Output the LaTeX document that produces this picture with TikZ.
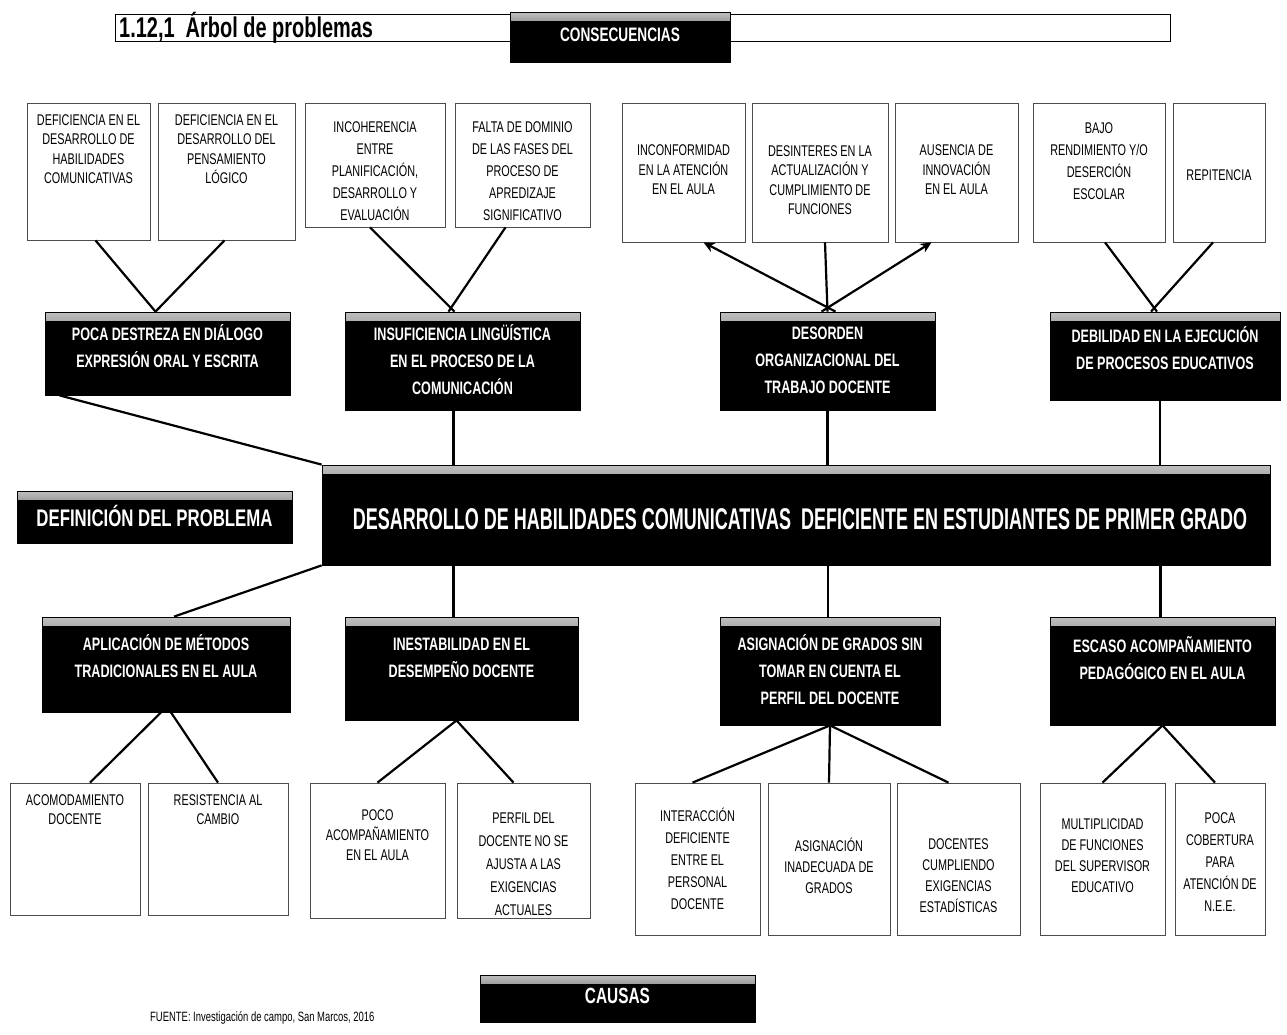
\documentclass[tikz,border=0pt]{standalone}
\usepackage{fontspec}
\setmainfont{Liberation Sans}
\newfontfamily\cond[FakeStretch=0.7]{Liberation Sans}
\newfontfamily\condn[FakeStretch=0.6]{Liberation Sans}
\usetikzlibrary{arrows.meta,calc}
\begin{document}
\begin{tikzpicture}[x=1pt,y=-1pt,
  wbox/.style={draw=black!70, line width=0.8pt, fill=white, inner sep=0pt},
  dbox/.style={fill=black, draw=black, line width=0.8pt, inner sep=0pt,
    path picture={\shade[top color=black!25, bottom color=black]
      (path picture bounding box.north west) rectangle ([yshift=-8pt]path picture bounding box.north east);}},
  wtxt/.style={font=\cond\fontsize{15.5}{19.5}\selectfont, align=center, inner sep=0pt},
  dtxt/.style={font=\cond\bfseries\fontsize{18}{27}\selectfont, text=white, align=center, inner sep=0pt},
  conn/.style={line width=2.2pt, black},
  arr/.style={line width=2.2pt, black, -{Stealth[length=11pt,width=10pt]}}]
\useasboundingbox (0,0) rectangle (1287,1034);

% header
\draw[line width=0.8pt] (115,14) rectangle (1170,41);
\node[anchor=west, font=\cond\bfseries\fontsize{28.5}{30}\selectfont, inner sep=0pt] (title) at (119,28) {1.12,1\ \ Árbol de problemas};
\node[dbox, minimum width=220, minimum height=50] (cons) at (620,37) {};
\node[dtxt, font=\cond\bfseries\fontsize{19.5}{22}\selectfont] (conslbl) at (620,35) {CONSECUENCIAS};

% top consequence boxes
\node[wbox, minimum width=123, minimum height=137] (t1) at (88.5,171.5) {};
\node[wbox, minimum width=137, minimum height=137] (t2) at (226.5,171.5) {};
\node[wbox, minimum width=140, minimum height=124] (t3) at (375,165) {};
\node[wbox, minimum width=135, minimum height=124] (t4) at (522.5,165) {};
\node[wbox, minimum width=123, minimum height=139] (t5) at (683.5,172.5) {};
\node[wbox, minimum width=136, minimum height=139] (t6) at (820,172.5) {};
\node[wbox, minimum width=123, minimum height=139] (t7) at (956.5,172.5) {};
\node[wbox, minimum width=132, minimum height=139] (t8) at (1099,172.5) {};
\node[wbox, minimum width=92, minimum height=139] (t9) at (1219,172.5) {};

\node[wtxt] (t1l) at (88.5,149) {DEFICIENCIA EN EL\\DESARROLLO DE\\HABILIDADES\\COMUNICATIVAS};
\node[wtxt] (t2l) at (226.5,149) {DEFICIENCIA EN EL\\DESARROLLO DEL\\PENSAMIENTO\\LÓGICO};
\node[wtxt, font=\cond\fontsize{15.5}{22}\selectfont] (t3l) at (375,171) {INCOHERENCIA\\ENTRE\\PLANIFICACIÓN,\\DESARROLLO Y\\EVALUACIÓN};
\node[wtxt, font=\cond\fontsize{15.5}{22}\selectfont] (t4l) at (522.5,171) {FALTA DE DOMINIO\\DE LAS FASES DEL\\PROCESO DE\\APREDIZAJE\\SIGNIFICATIVO};
\node[wtxt] (t5l) at (683.5,170) {INCONFORMIDAD\\EN LA ATENCIÓN\\EN EL AULA};
\node[wtxt] (t6l) at (820,180) {DESINTERES EN LA\\ACTUALIZACIÓN Y\\CUMPLIMIENTO DE\\FUNCIONES};
\node[wtxt] (t7l) at (956.5,170) {AUSENCIA DE\\INNOVACIÓN\\EN EL AULA};
\node[wtxt, font=\cond\fontsize{15.5}{22}\selectfont] (t8l) at (1099,161) {BAJO\\RENDIMIENTO Y/O\\DESERCIÓN\\ESCOLAR};
\node[wtxt] (t9l) at (1219,175) {REPITENCIA};

% effect (dark) boxes
\node[dbox, minimum width=245, minimum height=83] (E1) at (167.5,353.5) {};
\node[dbox, minimum width=235, minimum height=98] (E2) at (462.5,361) {};
\node[dbox, minimum width=215, minimum height=98] (E3) at (827.5,361) {};
\node[dbox, minimum width=230, minimum height=88] (E4) at (1165,356) {};
\node[dtxt] (E1l) at (167.5,346) {POCA DESTREZA EN DIÁLOGO\\EXPRESIÓN ORAL Y ESCRITA};
\node[dtxt] (E2l) at (462.5,360) {INSUFICIENCIA LINGÜÍSTICA\\EN EL PROCESO DE LA\\COMUNICACIÓN};
\node[dtxt] (E3l) at (827.5,360) {DESORDEN\\ORGANIZACIONAL DEL\\TRABAJO DOCENTE};
\node[dtxt] (E4l) at (1165,348) {DEBILIDAD EN LA EJECUCIÓN\\DE PROCESOS EDUCATIVOS};

% central problem
\node[dbox, minimum width=948, minimum height=100] (ctr) at (796,515) {};
\node[dtxt, font=\condn\bfseries\fontsize{30}{32}\selectfont] (ctrl) at (800,519) {DESARROLLO DE HABILIDADES COMUNICATIVAS\ \ DEFICIENTE EN ESTUDIANTES DE PRIMER GRADO};
\node[dbox, minimum width=275, minimum height=52] (def) at (154.5,517) {};
\node[dtxt, font=\cond\bfseries\fontsize{24}{26}\selectfont] (defl) at (154.5,516) {DEFINICIÓN DEL PROBLEMA};

% cause (dark) boxes
\node[dbox, minimum width=248, minimum height=95] (C1) at (166,664.5) {};
\node[dbox, minimum width=233, minimum height=103] (C2) at (461.5,668.5) {};
\node[dbox, minimum width=220, minimum height=108] (C3) at (830,671) {};
\node[dbox, minimum width=225, minimum height=108] (C4) at (1162.5,671) {};
\node[dtxt] (C1l) at (166,656) {APLICACIÓN DE MÉTODOS\\TRADICIONALES EN EL AULA};
\node[dtxt] (C2l) at (461.5,658) {INESTABILIDAD EN EL\\DESEMPEÑO DOCENTE};
\node[dtxt] (C3l) at (830,670) {ASIGNACIÓN DE GRADOS SIN\\TOMAR EN CUENTA EL\\PERFIL DEL DOCENTE};
\node[dtxt] (C4l) at (1162.5,658) {ESCASO ACOMPAÑAMIENTO\\PEDAGÓGICO EN EL AULA};

% bottom cause boxes
\node[wbox, minimum width=130, minimum height=132] (b1) at (75,849) {};
\node[wbox, minimum width=140, minimum height=132] (b2) at (218,849) {};
\node[wbox, minimum width=135, minimum height=135] (b3) at (377.5,850.5) {};
\node[wbox, minimum width=133, minimum height=135] (b4) at (523.5,850.5) {};
\node[wbox, minimum width=125, minimum height=152] (b5) at (697.5,859) {};
\node[wbox, minimum width=122, minimum height=152] (b6) at (829,859) {};
\node[wbox, minimum width=123, minimum height=152] (b7) at (958.5,859) {};
\node[wbox, minimum width=125, minimum height=152] (b8) at (1102.5,859) {};
\node[wbox, minimum width=90, minimum height=152] (b9) at (1220,859) {};

\node[wtxt, font=\cond\fontsize{15.5}{19}\selectfont] (b1l) at (75,810) {ACOMODAMIENTO\\DOCENTE};
\node[wtxt, font=\cond\fontsize{15.5}{19}\selectfont] (b2l) at (218,810) {RESISTENCIA AL\\CAMBIO};
\node[wtxt, font=\cond\fontsize{15.5}{20}\selectfont] (b3l) at (377.5,835) {POCO\\ACOMPAÑAMIENTO\\EN EL AULA};
\node[wtxt, font=\cond\fontsize{15.5}{23}\selectfont] (b4l) at (523.5,864) {PERFIL DEL\\DOCENTE NO SE\\AJUSTA A LAS\\EXIGENCIAS\\ACTUALES};
\node[wtxt, font=\cond\fontsize{15.5}{22}\selectfont] (b5l) at (697.5,859) {INTERACCIÓN\\DEFICIENTE\\ENTRE EL\\PERSONAL\\DOCENTE};
\node[wtxt, font=\cond\fontsize{15.5}{21}\selectfont] (b6l) at (829,866) {ASIGNACIÓN\\INADECUADA DE\\GRADOS};
\node[wtxt, font=\cond\fontsize{15.5}{21}\selectfont] (b7l) at (958.5,876) {DOCENTES\\CUMPLIENDO\\EXIGENCIAS\\ESTADÍSTICAS};
\node[wtxt, font=\cond\fontsize{15.5}{21}\selectfont] (b8l) at (1102.5,856) {MULTIPLICIDAD\\DE FUNCIONES\\DEL SUPERVISOR\\EDUCATIVO};
\node[wtxt, font=\cond\fontsize{15.5}{22}\selectfont] (b9l) at (1220,862) {POCA\\COBERTURA\\PARA\\ATENCIÓN DE\\N.E.E.};

% causas label and source
\node[dbox, minimum width=275, minimum height=47] (causas) at (617.5,998.5) {};
\node[dtxt, font=\cond\bfseries\fontsize{22}{24}\selectfont] (causasl) at (617.5,996) {CAUSAS};
\node[anchor=west, font=\cond\fontsize{13.5}{15}\selectfont, inner sep=0pt] (src) at (150,1018) {FUENTE: Investigación de campo, San Marcos, 2016};

% connectors: consequences -> effects
\draw[conn] ([xshift=7pt]t1.south) -- ([xshift=-12pt]E1.north);
\draw[conn] ([xshift=-2pt]t2.south) -- ([xshift=-12pt]E1.north);
\draw[conn] ([xshift=-5pt]t3.south) -- ([xshift=-8pt]E2.north);
\draw[conn] ([xshift=-17pt]t4.south) -- ([xshift=-14pt]E2.north);
\draw[arr] ([xshift=8pt]E3.north) -- ([xshift=20pt]t5.south);
\draw[conn] (E3.north) -- ([xshift=5pt]t6.south);
\draw[arr] ([xshift=-6pt]E3.north) -- ([xshift=-25pt]t7.south);
\draw[conn] ([xshift=6pt]t8.south) -- ([xshift=-8pt]E4.north);
\draw[conn] ([xshift=-6pt]t9.south) -- ([xshift=-14pt]E4.north);

% effects -> central problem
\draw[conn] ([xshift=15pt]E1.south west) -- (ctr.north west);
\coordinate (e2b) at ([xshift=-9pt]E2.south);
\coordinate (e3b) at (E3.south);
\coordinate (e4b) at ([xshift=-5pt]E4.south);
\draw[conn] (e2b) -- (e2b |- ctr.north);
\draw[conn] (e3b) -- (e3b |- ctr.north);
\draw[conn] (e4b) -- (e4b |- ctr.north);

% central problem -> causes
\draw[conn] (ctr.south west) -- ([xshift=8pt]C1.north);
\coordinate (c2t) at ([xshift=-8pt]C2.north);
\coordinate (c3t) at ([xshift=-2pt]C3.north);
\coordinate (c4t) at ([xshift=-2pt]C4.north);
\draw[conn] (c2t |- ctr.south) -- (c2t);
\draw[conn] (c3t |- ctr.south) -- (c3t);
\draw[conn] (c4t |- ctr.south) -- (c4t);

% causes -> sub-causes
\draw[conn] ([xshift=-5pt]C1.south) -- ([xshift=15pt]b1.north);
\draw[conn] ([xshift=5pt]C1.south) -- (b2.north);
\draw[conn] ([xshift=-5pt]C2.south) -- (b3.north);
\draw[conn] ([xshift=-5pt]C2.south) -- ([xshift=-10pt]b4.north);
\draw[conn] (C3.south) -- ([xshift=-5pt]b5.north);
\draw[conn] (C3.south) -- (b6.north);
\draw[conn] (C3.south) -- ([xshift=-10pt]b7.north);
\draw[conn] (C4.south) -- (b8.north);
\draw[conn] (C4.south) -- ([xshift=-5pt]b9.north);
\end{tikzpicture}
\end{document}
